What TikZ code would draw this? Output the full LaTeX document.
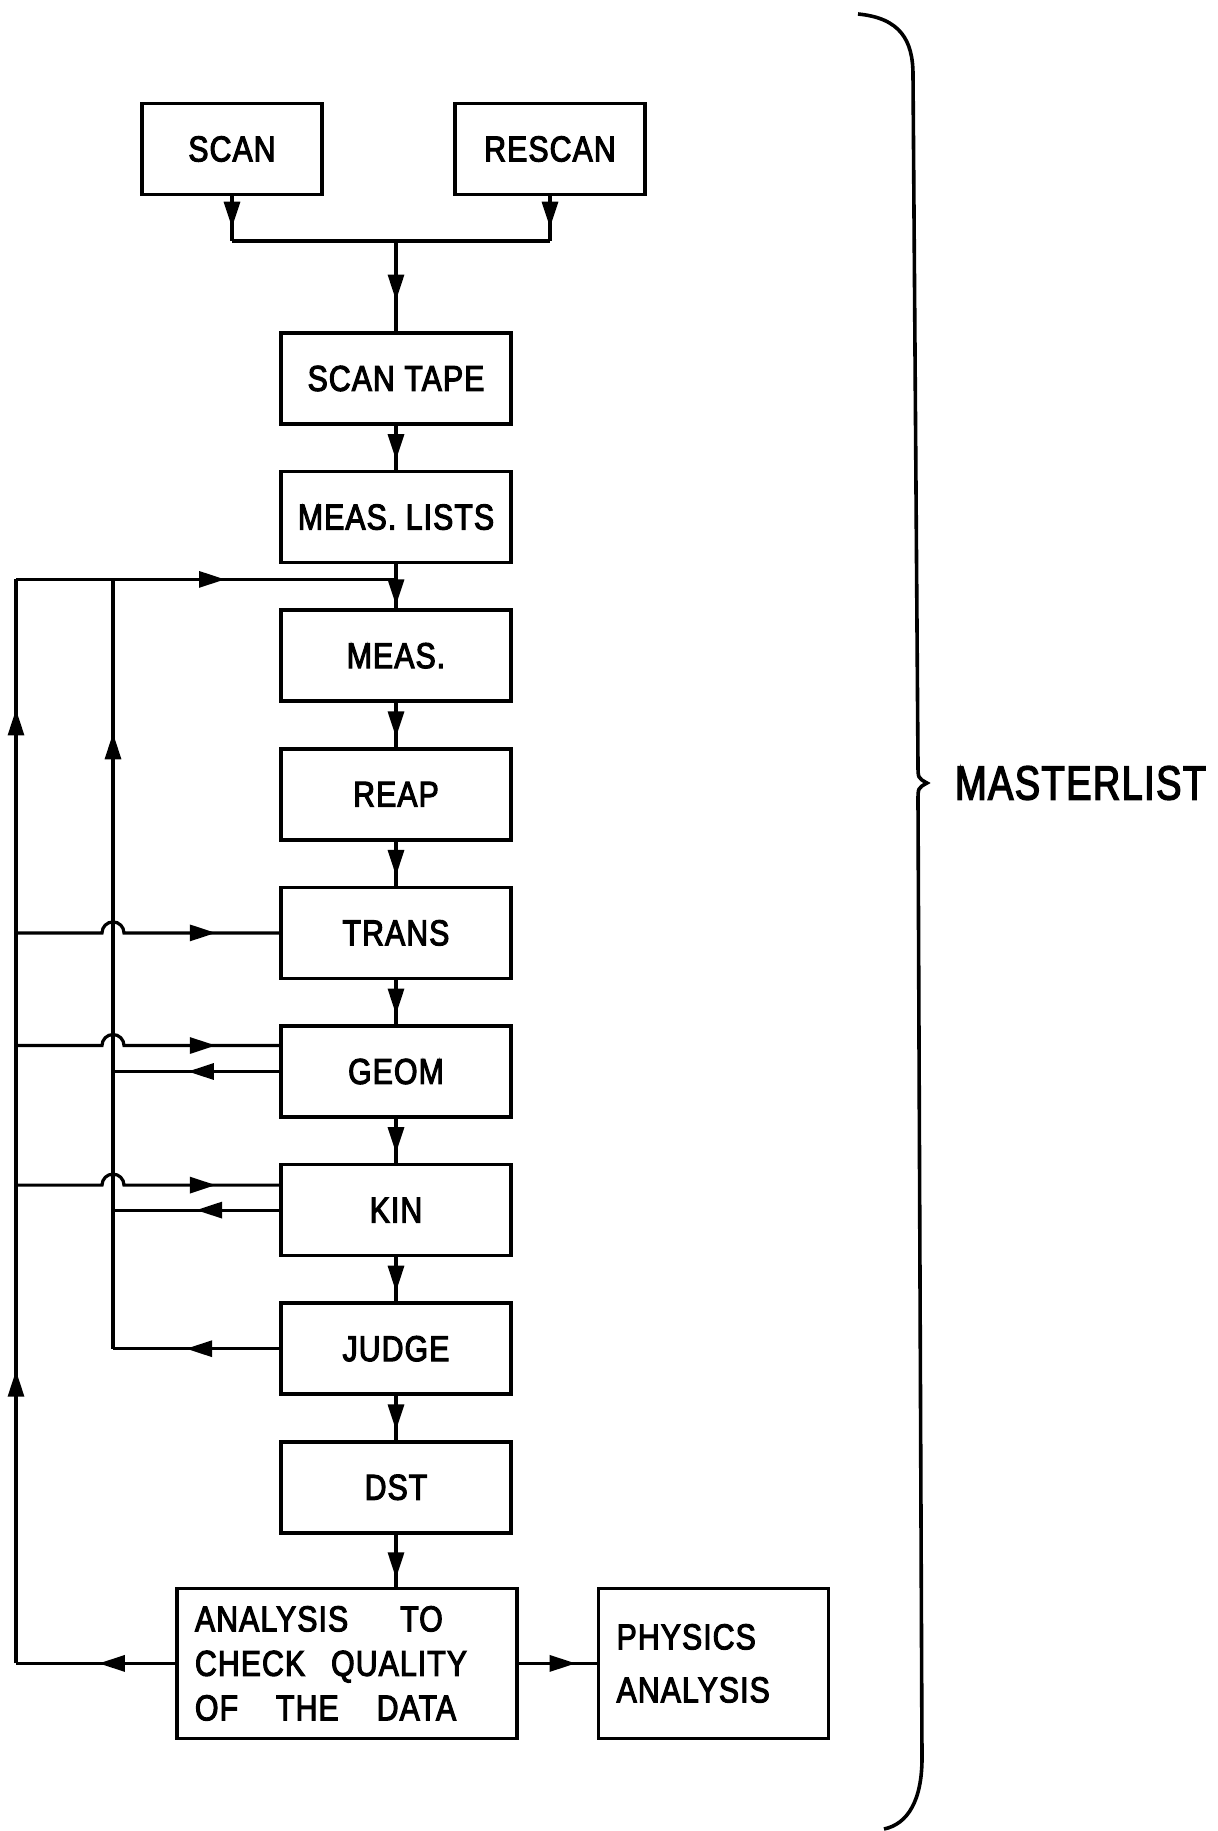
\documentclass[tikz,border=0pt]{standalone}
\usepackage{fontspec}
\setmainfont{Liberation Sans}
\newfontfamily\chartfont[FakeStretch=0.84, LetterSpace=3, FakeBold=3]{Liberation Sans}
\newfontfamily\bracefont[FakeStretch=0.79, LetterSpace=3, FakeBold=3]{Liberation Sans}
\usetikzlibrary{arrows.meta,positioning,decorations.markings}

\begin{document}
\begin{tikzpicture}[
  x=0.5pt, y=-0.5pt,
  node distance=22pt,
  font=\chartfont\fontsize{18}{22.25}\selectfont,
  >={Triangle[length=13pt, width=8pt]},
  box/.style={draw, line width=1.8pt, minimum width=115pt, minimum height=45.5pt, inner sep=0pt},
  widebox/.style={box, align=left, text width=152pt, inner xsep=9pt, minimum height=75pt},
  wire/.style={line width=1.6pt},
  flow/.style={wire, postaction={decorate}, decoration={markings, mark=at position #1 with {\arrow{>}}}},
  flow/.default=0.78,
  flowtwo/.style 2 args={wire, postaction={decorate}, decoration={markings, mark=at position #1 with {\arrow{>}}, mark=at position #2 with {\arrow{>}}}}
]
  \useasboundingbox (0,0) rectangle (1217,1831);

  % main chain
  \node[box, minimum width=90pt] (scan) at (232,149) {SCAN};
  \node[box, minimum width=95pt] (rescan) at (550,149) {RESCAN};
  \node[box] (scantape) at (396,378.5) {SCAN TAPE};
  \node[box, below=of scantape] (measlists) {MEAS. LISTS};
  \node[box, below=of measlists] (meas) {MEAS.};
  \node[box, below=of meas] (reap) {REAP};
  \node[box, below=of reap] (trans) {TRANS};
  \node[box, below=of trans] (geom) {GEOM};
  \node[box, below=of geom] (kin) {KIN};
  \node[box, below=of kin] (judge) {JUDGE};
  \node[box, below=of judge] (dst) {DST};
  \node[widebox, below=26pt of dst.south east, anchor=north east, xshift=3pt] (check)
    {ANALYSIS\hspace{26pt}TO\\CHECK\hspace{13pt}QUALITY\\OF\hspace{19pt}THE\hspace{19pt}DATA};
  \node[widebox, text width=97pt, right=39pt of check] (physics) {PHYSICS\\[4.25pt]ANALYSIS};

  \coordinate (join) at (396,241);
  \coordinate (outer) at (16,577);
  \coordinate (inner) at (113,577);
  \coordinate (feed) at ([yshift=-7.5pt]measlists.south);

  \draw[flow=0.7] (scan.south) -- (scan.south |- join);
  \draw[flow=0.7] (rescan.south) -- (rescan.south |- join);
  \draw[wire] (scan.south |- join) -- (rescan.south |- join);
  \draw[flow=0.66] (join) -- (scantape.north);
  \draw[flow=0.93] (measlists.south) -- (meas.north);
  \foreach \a/\b in {scantape/measlists, meas/reap, reap/trans, trans/geom, geom/kin, kin/judge, judge/dst}
    \draw[flow] (\a) -- (\b);
  \draw[flow=0.84] (dst.south) -- (dst.south |- check.north);
  \draw[flow=0.73] (check.east) -- (physics.west);

  % feedback loops
  \draw[flow=0.48] (check.west) -- (check.west -| outer);
  \draw[flowtwo={0.27}{0.88}] (check.west -| outer) -- (feed -| outer);
  \draw[flow=0.55] (feed -| outer) -- (feed);
  \draw[flow=0.56] (judge.west) -- (judge.west -| inner);
  \draw[flow=0.8] (judge.west -| inner) -- (feed -| inner);
  \draw[flow=0.55] (geom.west) -- (geom.west -| inner);
  \draw[flow=0.5] (kin.west) -- (kin.west -| inner);
  \foreach \n/\s in {trans/0pt, geom/13pt, kin/12.5pt} {
    \coordinate (\n-in) at ([yshift=\s]\n.west);
    \draw[flow=0.77] (\n-in -| outer) -- ([xshift=-5.5pt]\n-in -| inner)
      arc[start angle=180, end angle=0, radius=5.5pt] -- (\n-in);
  }

  % brace
  \draw[line width=1.8pt] (858,14) .. controls (900,18) and (913,40) .. (913,75)
    -- (918,765) .. controls (918,778) .. (927,783) .. controls (918,788) .. (918,801)
    -- (922,1758) .. controls (922,1800) and (908,1824) .. (884,1829);
  \node[anchor=west, font=\bracefont\fontsize{24}{28}\selectfont] (master) at (948,783) {MASTERLIST};
\end{tikzpicture}
\end{document}
